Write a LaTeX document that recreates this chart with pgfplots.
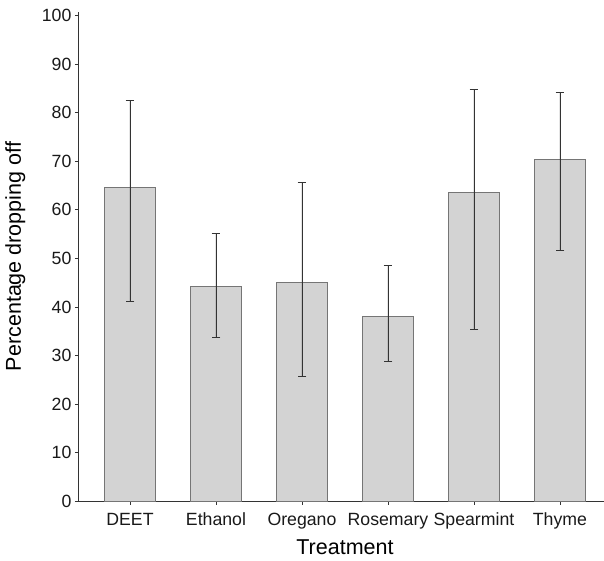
\documentclass[border=0pt]{standalone}
\usepackage{fontspec}
\setmainfont{Liberation Sans}
\usepackage{pgfplots}
\pgfplotsset{compat=1.18}
\definecolor{barfill}{HTML}{D3D3D3}
\definecolor{barline}{HTML}{757575}
\definecolor{axline}{HTML}{333333}
\begin{document}
\begin{tikzpicture}
\begin{axis}[
  scale only axis,
  width=525.6bp, height=489.4bp,
  xmin=0.4, xmax=6.512,
  ymin=0, ymax=100.8,
  axis x line*=bottom, axis y line*=left,
  axis line style={axline, line width=0.8pt},
  tick align=outside,
  major tick length=3.5bp,
  tick style={axline, line width=0.8pt},
  xtick={1,2,3,4,5,6},
  xticklabels={DEET,Ethanol,Oregano,Rosemary,Spearmint,Thyme},
  ytick={0,10,...,100},
  /pgf/number format/assume math mode=true,
  tick label style={font=\fontsize{17.7bp}{20bp}\selectfont, text=black!90},
  xticklabel style={text height=13bp, text depth=3.7bp, yshift=-4.5bp},
  label style={font=\fontsize{21.5bp}{24bp}\selectfont},
  xlabel={Treatment},
  ylabel={Percentage dropping off},
  xlabel style={at={(axis cs:3.5,0)}, anchor=north, yshift=-34.6bp},
  ylabel style={at={(axis description cs:0,0.5)}, anchor=north, yshift=76.6bp},
  clip=false,
]
\addplot[ybar, bar width=51.6bp, fill=barfill, draw=barline, line width=0.8pt,
  error bars/.cd, y dir=both, y explicit,
  error bar style={line width=0.8pt, axline},
  error mark options={line width=0.8pt, axline, mark size=4.3bp, rotate=90}]
coordinates {
  (1,64.65) += (0,17.95) -= (0,23.45)
  (2,44.3) += (0,10.9) -= (0,10.5)
  (3,45.0) += (0,20.7) -= (0,19.2)
  (4,38.1) += (0,10.5) -= (0,9.4)
  (5,63.6) += (0,21.2) -= (0,28.3)
  (6,70.3) += (0,13.8) -= (0,18.7)
};
\end{axis}
\pgfresetboundingbox
\path[use as bounding box] (-78.4bp,-59.8bp) rectangle (525.6bp,501.2bp);
\end{tikzpicture}
\end{document}
